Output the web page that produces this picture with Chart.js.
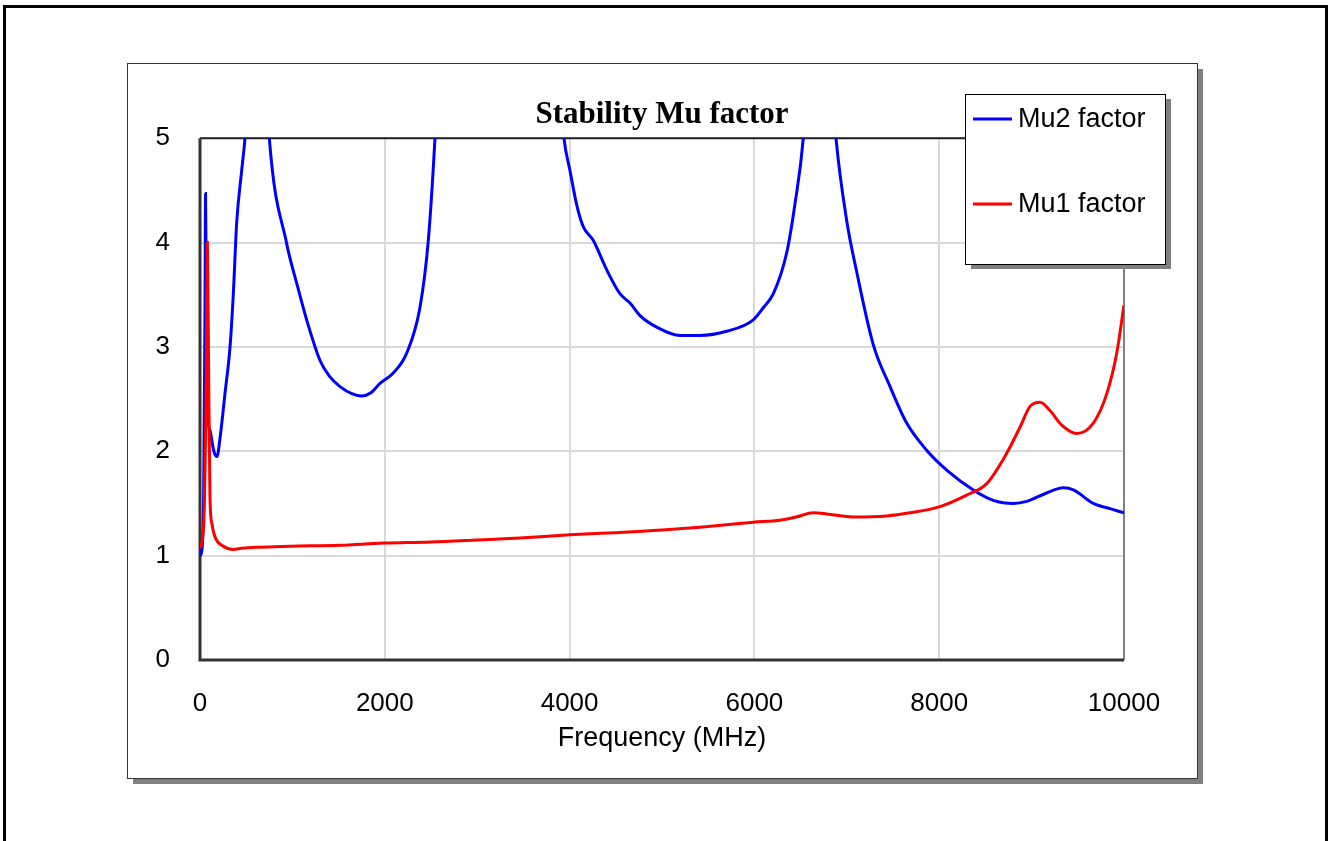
<!DOCTYPE html>
<html>
<head>
<meta charset="utf-8">
<title>Stability Mu factor</title>
<script src="https://cdn.jsdelivr.net/npm/chart.js@4/dist/chart.umd.min.js"></script>
<style>
  html, body { margin: 0; padding: 0; background: #fff; }
</style>
</head>
<body>
<canvas id="graph" width="1330" height="841"></canvas>
<script>
// Mu2 factor (blue) - frequency in MHz, value
const mu2Freq = [0, 20, 40, 55, 60, 68, 76, 108, 150, 184, 220, 270, 325, 360, 397, 451, 487, 560, 620, 690, 750,
  938, 1050, 1154, 1299, 1400, 1515, 1650, 1750, 1850, 1948, 2092, 2237, 2381, 2471, 2543, 2650, 3000, 3500,
  3850, 3939, 4004, 4080, 4149, 4257, 4401, 4545, 4654, 4762, 4942, 5195, 5411, 5700, 5988, 6100, 6205, 6349, 6439,
  6529, 6600, 6700, 6800, 6883, 6999, 7107, 7287, 7468, 7648, 7864, 8081, 8369, 8586, 8802, 8947, 9163, 9343, 9452,
  9668, 9850, 10000];
const mu2Val = [1.0, 1.05, 1.6, 3.5, 4.47, 3.5, 2.5, 2.2, 2.0, 1.95, 2.15, 2.55, 3.0, 3.5, 4.19, 4.69, 5.0, 6.0, 6.6, 6.0, 5.0,
  3.99, 3.6, 3.26, 2.87, 2.72, 2.62, 2.55, 2.53, 2.56, 2.65, 2.75, 2.94, 3.38, 4.02, 5.0, 7, 12, 12,
  6, 5.0, 4.69, 4.35, 4.15, 4.02, 3.74, 3.51, 3.42, 3.30, 3.19, 3.11, 3.11, 3.15, 3.26, 3.38, 3.51, 3.90, 4.37,
  5.0, 6.0, 6.6, 6.0, 5.0, 4.21, 3.72, 3.02, 2.62, 2.27, 2.01, 1.82, 1.63, 1.53, 1.50, 1.52, 1.60, 1.65, 1.63,
  1.50, 1.45, 1.41];

// Mu1 factor (red)
const mu1Freq = [0, 40, 65, 80, 95, 108, 130, 162, 253, 361, 450, 613, 974, 1515, 1984, 2489, 3000, 3463, 4004, 4500,
  4906, 5500, 5988, 6277, 6450, 6638, 6782, 7071, 7432, 7684, 8009, 8297, 8514, 8730, 8874, 8983, 9091, 9199,
  9326, 9488, 9668, 9813, 9921, 10000];
const mu1Val = [1.07, 1.3, 2.5, 4.0, 2.6, 1.56, 1.3, 1.18, 1.09, 1.06, 1.07, 1.08, 1.09, 1.10, 1.12, 1.13, 1.15, 1.17, 1.20, 1.22,
  1.24, 1.28, 1.32, 1.34, 1.37, 1.41, 1.40, 1.37, 1.38, 1.41, 1.47, 1.58, 1.69, 1.98, 2.23, 2.43, 2.47, 2.39,
  2.25, 2.17, 2.27, 2.55, 2.94, 3.4];

const seriesNames = ['Mu2 factor', 'Mu1 factor'];
const seriesColors = ['#0000ff', '#ff0000'];

const toPoints = (xs, ys) => xs.map((x, i) => ({ x: x, y: ys[i] }));

Chart.defaults.font.family = "'Liberation Sans', Arial, sans-serif";
Chart.defaults.font.size = 26;
Chart.defaults.color = '#000';

// panel, shadow, plot border and the boxed legend
const framePlugin = {
  id: 'frame',
  beforeDraw(chart) {
    const ctx = chart.ctx;
    ctx.save();
    ctx.fillStyle = '#fff';
    ctx.fillRect(0, 0, chart.width, chart.height);
    ctx.strokeStyle = '#000';
    ctx.lineWidth = 3;
    ctx.strokeRect(4.5, 6.5, 1322, 850);
    ctx.fillStyle = '#808080';
    ctx.fillRect(133, 69, 1070, 715);
    ctx.fillStyle = '#fff';
    ctx.fillRect(128, 64, 1070, 715);
    ctx.strokeStyle = '#333';
    ctx.lineWidth = 1;
    ctx.strokeRect(127.5, 63.5, 1070, 715);
    ctx.restore();
  },
  beforeDatasetsDraw(chart) {
    const a = chart.chartArea;
    const ctx = chart.ctx;
    ctx.save();
    ctx.lineWidth = 2;
    ctx.strokeStyle = '#808080';
    ctx.beginPath();
    ctx.moveTo(a.right, a.top);
    ctx.lineTo(a.right, a.bottom);
    ctx.stroke();
    ctx.strokeStyle = '#222';
    ctx.beginPath();
    ctx.moveTo(a.left, a.top);
    ctx.lineTo(a.right, a.top);
    ctx.stroke();
    ctx.lineWidth = 3;
    ctx.strokeStyle = '#333';
    ctx.beginPath();
    ctx.moveTo(a.left, a.top);
    ctx.lineTo(a.left, a.bottom);
    ctx.lineTo(a.right, a.bottom);
    ctx.stroke();
    ctx.restore();
  },
  afterDraw(chart) {
    const ctx = chart.ctx;
    ctx.save();
    ctx.fillStyle = '#808080';
    ctx.fillRect(971, 99, 200, 170);
    ctx.fillStyle = '#fff';
    ctx.fillRect(966, 94, 200, 170);
    ctx.strokeStyle = '#000';
    ctx.lineWidth = 1;
    ctx.strokeRect(965.5, 94.5, 200, 170);
    chart.data.datasets.forEach((ds, i) => {
      const y = 119 + i * 85;
      ctx.strokeStyle = ds.borderColor;
      ctx.lineWidth = 3;
      ctx.beginPath();
      ctx.moveTo(973, y);
      ctx.lineTo(1012, y);
      ctx.stroke();
      ctx.fillStyle = '#000';
      ctx.font = "27px 'Liberation Sans', Arial, sans-serif";
      ctx.textBaseline = 'middle';
      ctx.fillText(ds.label, 1018, y + 1);
    });
    ctx.restore();
  }
};

const ctx = document.getElementById('graph').getContext('2d');

const graph = new Chart(ctx, {
  type: 'line',
  data: {
    datasets: [{
      label: seriesNames[0],
      data: toPoints(mu2Freq, mu2Val),
      borderColor: seriesColors[0],
      backgroundColor: seriesColors[0],
      borderWidth: 3,
      pointRadius: 0,
      cubicInterpolationMode: 'monotone',
      order: 1
    }, {
      label: seriesNames[1],
      data: toPoints(mu1Freq, mu1Val),
      borderColor: seriesColors[1],
      backgroundColor: seriesColors[1],
      borderWidth: 3,
      pointRadius: 0,
      cubicInterpolationMode: 'monotone',
      order: 0
    }]
  },
  options: {
    responsive: false,
    animation: false,
    layout: {
      padding: { top: 96, left: 130, right: 206, bottom: 82 }
    },
    scales: {
      x: {
        type: 'linear',
        min: 0,
        max: 10000,
        afterFit: (scale) => { scale.height = 99; },
        ticks: { stepSize: 2000, padding: 28, maxRotation: 0, callback: (v) => String(v) },
        grid: { color: '#d9d9d9', lineWidth: 2, drawTicks: false },
        border: { display: false },
        title: {
          display: true,
          text: 'Frequency (MHz)',
          font: { size: 27 },
          padding: { top: 4, bottom: 4 }
        }
      },
      y: {
        min: 0,
        max: 5,
        afterFit: (scale) => { scale.width = 70; },
        ticks: { stepSize: 1, padding: 30 },
        grid: { color: '#d9d9d9', lineWidth: 2, drawTicks: false },
        border: { display: false }
      }
    },
    plugins: {
      legend: { display: false },
      tooltip: { enabled: false },
      title: {
        display: true,
        fullSize: false,
        text: 'Stability Mu factor',
        color: '#000',
        font: { family: "'Liberation Serif', 'Times New Roman', serif", size: 31, weight: 'bold' },
        padding: { top: 0, bottom: 5 }
      }
    }
  },
  plugins: [framePlugin]
});
</script>
</body>
</html>
